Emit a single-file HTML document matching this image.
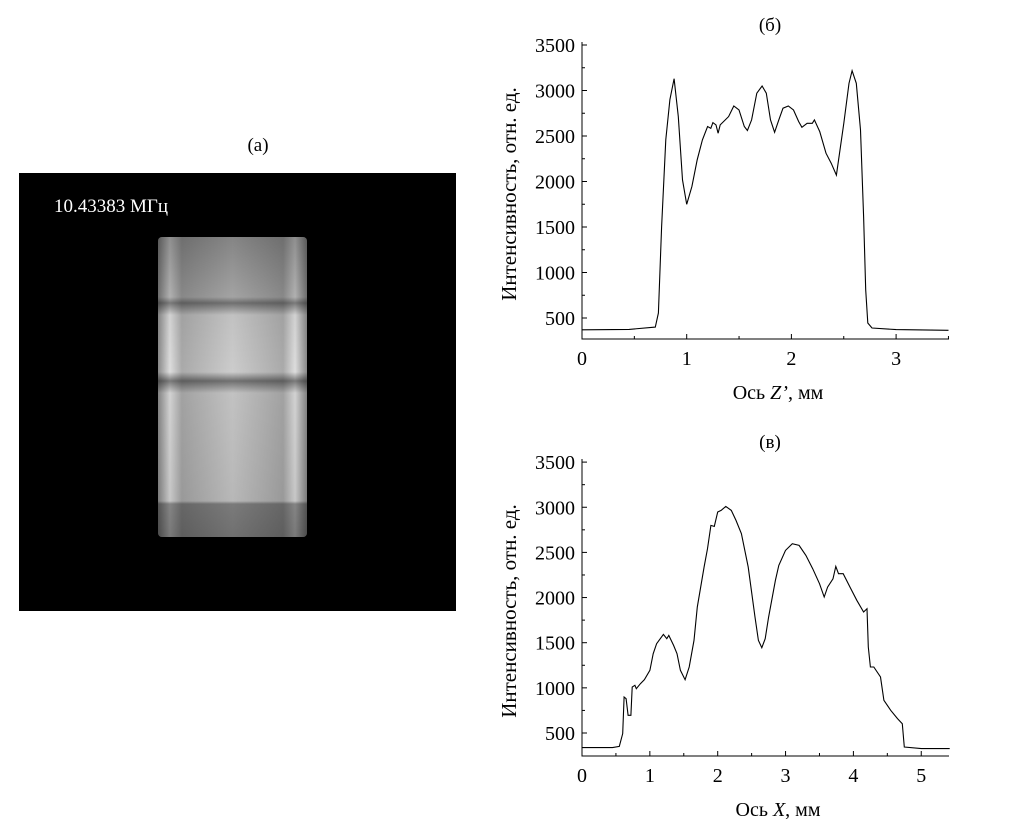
<!DOCTYPE html>
<html><head><meta charset="utf-8"><style>
body{margin:0;background:#fff;width:1010px;height:832px;overflow:hidden;font-family:"Liberation Serif",serif}
svg{position:absolute;left:0;top:0}
</style></head><body>
<svg width="1010" height="832">
<defs>
<linearGradient id="hg" x1="0" x2="1" y1="0" y2="0">
<stop offset="0" stop-color="#888"/><stop offset="0.08" stop-color="#ddd"/><stop offset="0.16" stop-color="#aaa"/>
<stop offset="0.5" stop-color="#ccc"/><stop offset="0.84" stop-color="#aaa"/><stop offset="0.92" stop-color="#ddd"/><stop offset="1" stop-color="#888"/>
</linearGradient>
<linearGradient id="vg" x1="0" x2="0" y1="0" y2="1">
<stop offset="0" stop-color="#000" stop-opacity="0.35"/>
<stop offset="0.2" stop-color="#000" stop-opacity="0.2"/>
<stop offset="0.22" stop-color="#000" stop-opacity="0.45"/>
<stop offset="0.26" stop-color="#000" stop-opacity="0.05"/>
<stop offset="0.45" stop-color="#000" stop-opacity="0"/>
<stop offset="0.48" stop-color="#000" stop-opacity="0.45"/>
<stop offset="0.52" stop-color="#000" stop-opacity="0.05"/>
<stop offset="0.88" stop-color="#000" stop-opacity="0.1"/>
<stop offset="0.89" stop-color="#000" stop-opacity="0.4"/>
<stop offset="1" stop-color="#000" stop-opacity="0.45"/>
</linearGradient>
</defs>
<text x="258" y="151" font-size="19" text-anchor="middle">(а)</text>
<g>
<rect x="19" y="173" width="437" height="438" fill="#000"/>
<rect x="158" y="237" width="149" height="300" rx="4" fill="url(#hg)"/>
<rect x="158" y="237" width="149" height="300" rx="4" fill="url(#vg)"/>
<text x="54" y="212" font-size="19" fill="#fff">10.43383 МГц</text>
</g>
<g id="c1"></g>
<g id="c2"></g>
</svg>
<script>
const zX=[0,0.45,0.7,0.73,0.76,0.8,0.84,0.88,0.92,0.96,1.0,1.05,1.1,1.15,1.2,1.23,1.25,1.28,1.3,1.32,1.4,1.45,1.5,1.55,1.58,1.62,1.67,1.72,1.76,1.8,1.84,1.88,1.92,1.97,2.02,2.07,2.1,2.15,2.2,2.22,2.27,2.33,2.38,2.43,2.5,2.55,2.58,2.62,2.66,2.69,2.71,2.73,2.77,3.0,3.5];
const zY=[370,375,400,555,1500,2460,2900,3130,2713,2018,1750,1945,2238,2457,2604,2585,2647,2622,2530,2622,2713,2830,2786,2604,2560,2677,2970,3050,2970,2677,2541,2677,2805,2830,2786,2658,2596,2640,2640,2677,2549,2311,2201,2070,2640,3079,3218,3079,2567,1616,810,445,390,372,365];
const xX=[0,0.45,0.55,0.6,0.62,0.65,0.68,0.72,0.74,0.78,0.8,0.86,0.92,1.0,1.05,1.1,1.2,1.25,1.28,1.35,1.4,1.45,1.52,1.58,1.65,1.7,1.8,1.85,1.9,1.95,2.0,2.05,2.12,2.2,2.27,2.35,2.45,2.55,2.6,2.65,2.7,2.75,2.85,2.9,3.0,3.1,3.2,3.3,3.4,3.5,3.57,3.62,3.7,3.74,3.78,3.85,3.95,4.05,4.15,4.2,4.22,4.25,4.3,4.4,4.45,4.55,4.65,4.72,4.75,5.0,5.42];
const xY=[338,338,352,493,899,880,696,696,1009,1028,991,1046,1090,1194,1378,1489,1592,1544,1581,1470,1378,1194,1090,1231,1526,1895,2338,2541,2799,2788,2947,2965,3009,2965,2854,2707,2338,1784,1526,1445,1544,1784,2190,2356,2522,2596,2578,2467,2319,2153,2006,2116,2208,2345,2264,2264,2116,1969,1840,1876,1452,1231,1231,1120,862,751,659,603,345,327,327];
const yTicks=[500,1000,1500,2000,2500,3000,3500];
const zXTicks=[0,1,2,3];
const xXTicks=[0,1,2,3,4,5];
const NS='http://www.w3.org/2000/svg';
function mk(p,t,a){const e=document.createElementNS(NS,t);for(const k in a)e.setAttribute(k,a[k]);p.appendChild(e);return e;}
function chart(g,o){
  const sx=v=>o.x0+(v-0)*o.kx, sy=v=>o.y500-(v-500)*o.ky;
  const ax=mk(g,'path',{d:`M${o.x0} ${o.yT-3}V${o.yB}H${o.xR}`,fill:'none',stroke:'#000','stroke-width':1});
  
  
  for(let v=500;v<=3500;v+=250){const y=sy(v);mk(g,'line',{x1:o.x0,x2:o.x0+(v%500?3:5),y1:y,y2:y,stroke:'#000'});}
  yTicks.forEach(v=>{const t=mk(g,'text',{x:o.x0-7,y:sy(v)+7,'font-size':20,'text-anchor':'end'});t.textContent=v;
    
    });
  for(let v=0.5;o.x0+v*o.kx<=o.xR;v+=0.5){const x=sx(v);mk(g,'line',{x1:x,x2:x,y1:o.yB,y2:o.yB-(v%1?3:5),stroke:'#000'});}
  o.xt.forEach(v=>{const t=mk(g,'text',{x:sx(v),y:o.yB+26,'font-size':20,'text-anchor':'middle'});t.textContent=v;
    
    });
  const d=o.xs.map((v,i)=>(i?'L':'M')+sx(v).toFixed(1)+' '+sy(o.ys[i]).toFixed(1)).join('');
  const p=mk(g,'path',{d:d,fill:'none',stroke:'#000','stroke-width':1.1});
  
  
  const yl=mk(g,'text',{transform:`translate(516 ${(o.yT+o.yB)/2+2}) rotate(-90)`,'font-size':21,'text-anchor':'middle'});
  yl.textContent='Интенсивность, отн. ед.';
  
  
  const xl=mk(g,'text',{x:778,y:o.yB+60,'font-size':20,'text-anchor':'middle'});
  xl.innerHTML=o.xlab;
  
  
  const tl=mk(g,'text',{x:770,y:o.yT-14,'font-size':19,'text-anchor':'middle'});
  tl.textContent=o.title;
  
  
}
chart(document.getElementById('c1'),{x0:582,xR:949,kx:104.7,y500:318,ky:0.091,yT:45,yB:339,xs:zX,ys:zY,xt:zXTicks,title:'(б)',xlab:'Ось <tspan font-style="italic">Z’</tspan>, мм'});
chart(document.getElementById('c2'),{x0:582,xR:949,kx:67.85,y500:733,ky:0.0903,yT:462,yB:756,xs:xX,ys:xY,xt:xXTicks,title:'(в)',xlab:'Ось <tspan font-style="italic">X</tspan>, мм'});
</script>
</body></html>
